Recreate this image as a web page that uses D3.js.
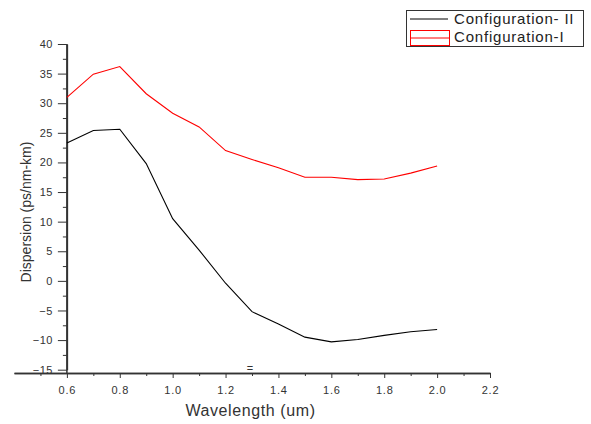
<!DOCTYPE html>
<html><head><meta charset="utf-8">
<script src="https://d3js.org/d3.v7.min.js"></script>
<style>body{margin:0;background:#fff;} svg{display:block;} text{font-family:"Liberation Sans",Arial,sans-serif;}</style>
</head><body><svg id="c" width="591" height="424"></svg>
<script>
const wavelength = [0.6,0.7,0.8,0.9,1.0,1.1,1.2,1.3,1.4,1.5,1.6,1.7,1.8,1.9,2.0];
const configII = [23.3,25.4,25.6,19.8,10.5,5.2,-0.4,-5.2,-7.3,-9.5,-10.3,-9.9,-9.2,-8.6,-8.2];
const configI = [31.0,34.9,36.2,31.6,28.3,26.0,22.0,20.5,19.1,17.5,17.5,17.1,17.2,18.2,19.4];
const seriesNames = ["Configuration- II","Configuration-I"];
const xMajorTicks = [0.6,0.8,1.0,1.2,1.4,1.6,1.8,2.0,2.2];
const xMinorTicks = [0.5,0.7,0.9,1.1,1.3,1.5,1.7,1.9,2.1];
const yMajorTicks = [-15,-10,-5,0,5,10,15,20,25,30,35,40];
const yMinorTicks = [-12.5,-7.5,-2.5,2.5,7.5,12.5,17.5,22.5,27.5,32.5,37.5];

const svg = d3.select("#c");
const x = d3.scaleLinear().domain([0.4,2.2]).range([14,490]);
const y = d3.scaleLinear().domain([-15,40]).range([369.7,44]);
const axisY = 373, axisX = x(0.6);
const lblColor = "#333";

// X axis
const gx = svg.append("g").attr("transform",`translate(0,${axisY})`);
gx.call(d3.axisBottom(x).tickValues(xMajorTicks).tickSize(5).tickSizeOuter(0).tickFormat(d3.format(".1f")));
gx.append("g").call(d3.axisBottom(x).tickValues(xMinorTicks).tickSize(3).tickSizeOuter(0).tickFormat(""));
gx.selectAll(".domain").attr("stroke","#333").attr("stroke-width",1.5);
gx.selectAll(".tick line").attr("stroke","#333");
gx.selectAll(".tick text").attr("font-size",11).attr("fill",lblColor).attr("dy","1.2em").attr("letter-spacing","0.8px");

// Y axis
const gy = svg.append("g").attr("transform",`translate(${axisX},0)`);
gy.call(d3.axisLeft(y).tickValues(yMajorTicks).tickSize(9).tickSizeOuter(0).tickFormat(d3.format("d")));
gy.append("g").call(d3.axisLeft(y).tickValues(yMinorTicks).tickSize(4).tickSizeOuter(0).tickFormat(""));
gy.select(".domain").attr("d",`M0,${y(40)}V${axisY}`);
gy.selectAll(".domain").attr("stroke","#333").attr("stroke-width",1.5);
gy.selectAll(".tick line").attr("stroke","#333");
gy.selectAll(".tick text").attr("font-size",11).attr("fill",lblColor).attr("x",-14).attr("letter-spacing","0.5px");

// lines
const line = d3.line().x((d,i)=>x(wavelength[i])).y(d=>y(d));
svg.append("path").datum(configII).attr("d",line).attr("fill","none").attr("stroke","#000").attr("stroke-width",1.1);
svg.append("path").datum(configI).attr("d",line).attr("fill","none").attr("stroke","#ff0000").attr("stroke-width",1.1);

// titles
svg.append("text").attr("x",(183+318)/2).attr("y",416).attr("text-anchor","middle").attr("font-size",16).attr("fill",lblColor).attr("letter-spacing","0.6px").text("Wavelength (um)");
svg.append("text").attr("transform","translate(31,212) rotate(-90)").attr("text-anchor","middle").attr("font-size",14).attr("fill",lblColor).text("Dispersion (ps/nm-km)");

// artifact mark
svg.append("text").attr("x",x(1.3)-2).attr("y",372).attr("text-anchor","middle").attr("font-size",11).attr("fill","#333").text("=");

// legend
const lg = svg.append("g");
lg.append("rect").attr("x",406.5).attr("y",10.5).attr("width",177).attr("height",36).attr("fill","#fff").attr("stroke","#333").attr("stroke-width",1);
lg.append("line").attr("x1",410).attr("x2",448).attr("y1",19).attr("y2",19).attr("stroke","#000").attr("stroke-width",1);
lg.append("rect").attr("x",410.5).attr("y",30.5).attr("width",39).attr("height",15).attr("fill","none").attr("stroke","#ff0000").attr("stroke-width",1);
lg.append("line").attr("x1",410).attr("x2",450).attr("y1",38).attr("y2",38).attr("stroke","#ff0000").attr("stroke-width",1);
lg.selectAll("text.leg").data(seriesNames).join("text").attr("class","leg")
  .attr("x",454).attr("y",(d,i)=>i===0?19:37).attr("dy","0.35em").attr("font-size",15).attr("letter-spacing","0.8px").attr("fill","#222").text(d=>d);
</script></body></html>
